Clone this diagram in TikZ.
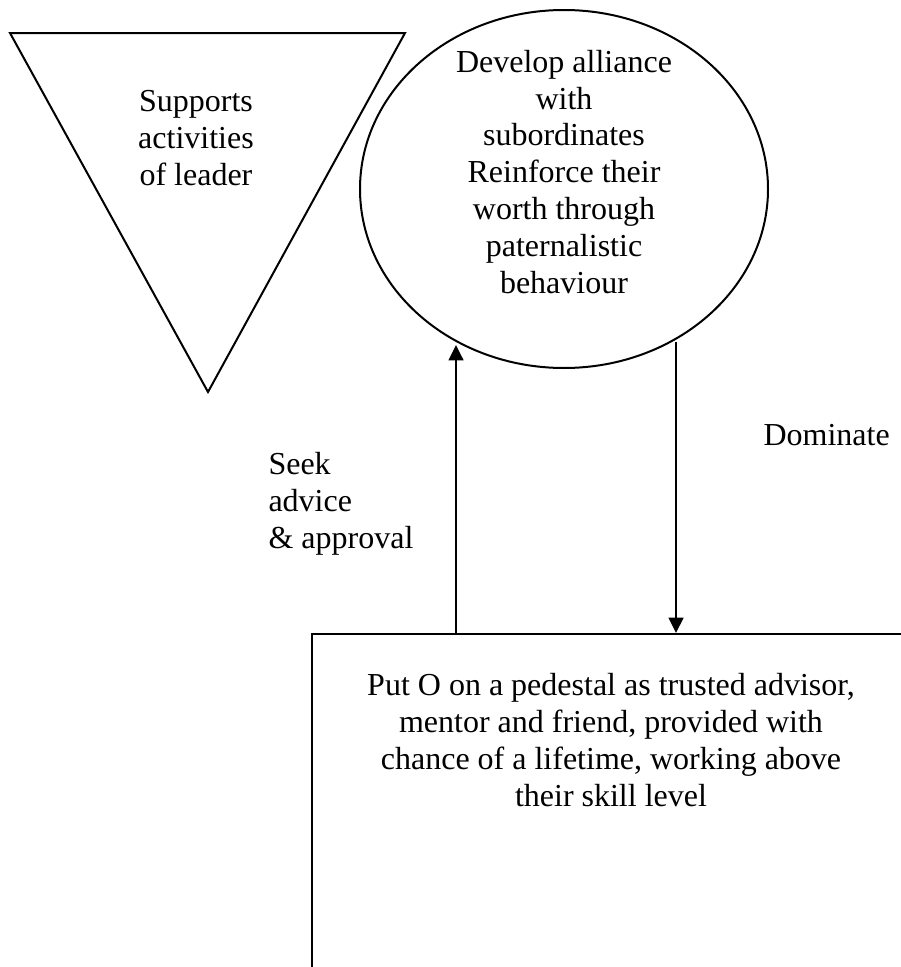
\documentclass[tikz,border=0pt]{standalone}
\usepackage{fontspec}
\setmainfont{Liberation Serif}
\usetikzlibrary{arrows.meta,shapes.geometric}

\tikzset{
  body/.style={font=\fontsize{12pt}{13.8pt}\selectfont, inner sep=0pt},
  outline/.style={draw=black, line width=0.75pt},
  arr/.style={line width=0.75pt, -{Triangle[length=5.8pt, width=5.6pt]}},
}

\begin{document}
\begin{tikzpicture}[x=0.375pt, y=-0.375pt]
  \useasboundingbox (0,0) rectangle (901,967);
  \clip (0,0) rectangle (901,967);

  % inverted triangle
  \coordinate (triA) at (10,33);
  \coordinate (triB) at (405,33);
  \coordinate (triC) at (208,392);
  \draw[outline, line join=miter] (triA) -- (triB) -- (triC) -- cycle;
  % multi-line nodes: base anchor sits on the last line's baseline
  \node[body, align=center, anchor=base] (tritext) at (196,185)
    {Supports\\activities\\of leader};

  % ellipse
  \node[outline, ellipse, minimum width=153pt, minimum height=134.25pt,
        inner sep=0pt] (ell) at (564,189) {};
  \node[body, align=center, anchor=base] (elltext) at (564,293)
    {Develop alliance\\with\\subordinates\\Reinforce their\\worth through\\paternalistic\\behaviour};

  % open-ended box
  \node[outline, rectangle, anchor=north west, minimum width=450pt,
        minimum height=262pt, inner sep=0pt] (box) at (311,633) {};
  \node[body, align=center, anchor=base] (boxtext) at (611,806)
    {Put O on a pedestal as trusted advisor,\\mentor and friend, provided with\\chance of a lifetime, working above\\their skill level};

  % connectors
  \coordinate (seektip) at (456,345);
  \coordinate (domstart) at (676,342);
  \draw[arr] (box.north -| seektip) -- (seektip);
  \draw[arr] (domstart) -- (box.north -| domstart);

  % labels
  \node[body, align=left, anchor=base west] (seek) at (268,548)
    {Seek\\advice\\\& approval};
  \node[body, anchor=base west] (dom) at (763,445) {Dominate};
\end{tikzpicture}
\end{document}
